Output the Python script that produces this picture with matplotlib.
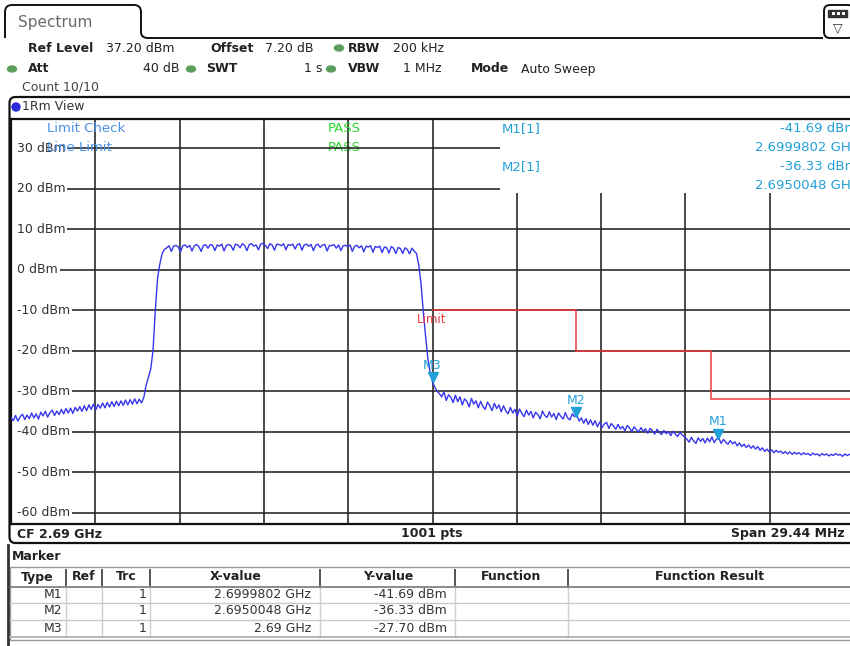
import numpy as np
import matplotlib
matplotlib.use("Agg")
import matplotlib.pyplot as plt
import matplotlib.transforms as mtransforms
from matplotlib.patches import Rectangle, Ellipse, Circle, FancyBboxPatch, PathPatch
from matplotlib.path import Path

plt.rcParams['font.family'] = ['DejaVu Sans', 'Noto Sans']

# ---------------- data ----------------
center_ghz = 2.69
span_mhz = 29.44
ref_level_dbm = 37.20
n_points = 1001
y_ticks = [30, 20, 10, 0, -10, -20, -30, -40, -50, -60]
y_tick_labels = [f"{v} dBm" for v in y_ticks]

# trace levels (dBm), evenly spaced across the span
trace_left = [-36.5, -37.3, -36.0, -37.4, -36.3, -35.7, -37.0, -35.9, -36.8, -35.4,
              -36.6, -35.6, -36.9, -35.2, -36.1, -35.0, -36.4, -35.3, -34.7, -36.0,
              -34.9, -35.8, -34.5, -35.6, -34.3, -35.4, -34.2, -35.5, -34.0, -34.9,
              -33.8, -35.0, -33.6, -34.8, -33.4, -34.5, -33.2, -34.6, -33.3, -34.2,
              -32.9, -34.1, -32.8, -33.9, -32.6, -33.8, -32.5, -33.6, -32.4, -33.5,
              -32.2, -33.4, -32.1, -33.2, -31.9, -33.1, -32.0, -32.9]
trace_rise = [-31.5, -28.5, -26.5, -24.5, -20.0, -10.0, -2.0, 1.5, 4.0, 5.0]
trace_top = [5.4, 5.9, 4.5, 5.8, 6.0, 5.6, 4.4, 5.9, 6.1, 5.5,
             6.0, 4.6, 5.9, 6.2, 5.7, 4.5, 6.0, 6.1, 5.3, 6.2,
             6.0, 4.7, 6.1, 5.8, 6.3, 4.6, 6.0, 6.2, 5.9, 4.8,
             6.3, 6.1, 5.4, 6.4, 6.0, 4.7, 6.2, 6.4, 5.8, 6.1,
             4.9, 6.3, 6.5, 6.0, 5.2, 6.4, 6.1, 4.8, 6.3, 6.2,
             5.9, 6.4, 4.9, 6.2, 6.0, 6.3, 5.1, 6.2, 6.4, 4.8,
             6.1, 6.3, 5.8, 6.2, 4.7, 6.0, 6.3, 5.5, 6.1, 6.2,
             4.6, 6.0, 5.9, 6.2, 5.3, 6.1, 4.7, 5.9, 6.0, 5.7,
             6.1, 4.5, 5.8, 6.0, 5.4, 5.9, 4.4, 5.8, 5.6, 5.9,
             4.3, 5.7, 5.5, 5.8, 4.2, 5.6, 5.4, 4.1, 5.7, 5.3,
             4.0, 5.5, 5.2, 4.0, 5.4, 5.0, 3.9, 5.3, 4.6]
trace_fall = [4.0, 1.2, -3.5, -10.5, -16.5, -22.0, -25.5, -27.7]
trace_right = [-29.0, -30.0, -30.6, -31.4, -30.2, -32.3, -30.9, -31.5, -32.8, -31.0,
               -32.6, -31.4, -33.4, -31.9, -32.5, -33.9, -31.8, -33.2, -32.4, -34.1,
               -32.5, -33.8, -34.5, -32.7, -33.6, -34.8, -33.0, -34.3, -33.4, -35.1,
               -33.6, -34.9, -35.6, -34.0, -35.4, -34.5, -36.2, -34.4, -35.5, -36.3,
               -34.7, -35.9, -35.0, -36.6, -35.2, -35.8, -36.8, -34.9, -36.0, -36.5,
               -35.1, -36.4, -35.5, -37.0, -35.4, -36.2, -36.9, -35.3, -36.6, -37.1,
               -35.6, -36.3, -35.9, -37.4, -36.6, -37.9, -36.8, -38.2, -37.1, -38.4,
               -37.3, -38.8, -37.6, -39.0, -38.1, -37.7, -39.2, -38.0, -38.6, -39.4,
               -38.2, -39.3, -38.7, -39.8, -38.5, -39.1, -40.0, -38.8, -39.5, -40.1,
               -39.0, -39.9, -39.3, -40.4, -39.2, -39.8, -40.6, -39.4, -40.2, -40.7,
               -39.7, -40.5, -40.0, -41.0, -39.9, -40.6, -41.2, -40.2, -40.8, -41.3,
               -41.8, -42.6, -41.4, -42.3, -42.9, -41.5, -42.4, -41.7, -42.8, -41.6,
               -42.5, -41.3, -42.7, -41.8, -41.6, -42.9, -41.9, -42.6, -43.1, -42.2,
               -43.0, -42.5, -43.5, -42.8, -43.7, -43.1, -43.9, -43.3, -44.1, -43.5,
               -44.3, -43.7, -44.6, -44.0, -44.9, -44.3, -45.0, -44.5, -45.2, -44.6,
               -45.1, -44.8, -45.4, -44.9, -45.5, -45.0, -45.6, -45.1, -45.5, -45.2,
               -45.7, -45.2, -45.6, -45.4, -45.9, -45.3, -45.7, -45.5, -46.0, -45.4,
               -45.8, -45.5, -46.0, -45.6, -45.9, -45.4, -45.8, -45.6, -46.1, -45.5,
               -45.9, -45.6, -45.8, -45.7]
trace_level = trace_left + trace_rise + trace_top + trace_fall + trace_right

# limit line (offset from CF in MHz, level dBm)
limit_offset_mhz = [0.0, 5.0, 5.0, 9.72, 9.72, 14.9]
limit_level = [-10, -10, -20, -20, -32, -32]

marker_names = ["M1", "M2", "M3"]
marker_freq_ghz = [2.6999802, 2.6950048, 2.69]
marker_level = [-41.69, -36.33, -27.70]
marker_trc = [1, 1, 1]

table_headers = ["Type", "Ref", "Trc", "X-value", "Y-value", "Function", "Function Result"]

# ---------------- colours ----------------
TRACE = "#3636ee"
MARK = "#22a0d8"
LIMC = "#4a8fe6"
PASSC = "#2ed82e"
RED = "#f03a3a"
GRID = "#2a2a2a"
TXT = "#222222"

W, H = 850, 646
fig = plt.figure(figsize=(W / 100, H / 100), dpi=100)
fig.patch.set_facecolor("white")

# UI overlay in pixel coordinates
ui = fig.add_axes([0, 0, 1, 1], zorder=0)
ui.set_xlim(0, W)
ui.set_ylim(H, 0)
ui.axis("off")


def t(x, y, s, bold=False, ha="left", color=TXT, size=9, **kw):
    ui.text(x, y, s, ha=ha, va="center", fontsize=size, color=color,
            fontweight="bold" if bold else "normal", **kw)


def dot(x, y):
    ui.add_patch(Ellipse((x, y), 9, 6, color="#5b9e5b"))


# tab
verts = [(5, 38), (5, 12), (5, 5), (12, 5), (134, 5), (141, 5), (141, 12),
         (141, 32), (141, 38), (148, 38), (823, 38)]
codes = [Path.MOVETO, Path.LINETO, Path.CURVE3, Path.CURVE3, Path.LINETO,
         Path.CURVE3, Path.CURVE3, Path.LINETO, Path.CURVE3, Path.CURVE3, Path.LINETO]
ui.add_patch(PathPatch(Path(verts, codes), fc="none", ec="#111", lw=1.4))
t(18, 22, "Spectrum", size=11, color="#6a6a6a")
# icon on right
ui.add_patch(FancyBboxPatch((824, 5), 30, 33, boxstyle="round,pad=0,rounding_size=6",
                            fc="white", ec="#111", lw=1.4))
ui.add_patch(Rectangle((828, 10), 19, 7, fc="#333", ec="#333"))
for xx in (832, 837, 842):
    ui.add_patch(Rectangle((xx, 12), 3, 3, fc="white", ec="none"))
t(838, 28, "\u25bd", ha="center", size=9, color="#333")

# header lines
t(28, 48, "Ref Level", bold=True)
t(106, 48, "37.20 dBm")
t(210, 48, "Offset", bold=True)
t(265, 48, "7.20 dB")
dot(339, 48)
t(348, 48, "RBW", bold=True)
t(393, 48, "200 kHz")
dot(12, 69)
t(28, 69, "Att", bold=True)
t(180, 69, "40 dB", ha="right")
dot(191, 69)
t(206, 69, "SWT", bold=True)
t(322, 69, "1 s", ha="right")
dot(331, 69)
t(348, 69, "VBW", bold=True)
t(442, 69, "1 MHz", ha="right")
t(471, 69, "Mode", bold=True)
t(521, 69, "Auto Sweep")
t(22, 87, "Count 10/10", color="#444")

# window box around the diagram
ui.add_patch(FancyBboxPatch((9.5, 97), 860, 446, boxstyle="round,pad=0,rounding_size=6",
                            fc="white", ec="#111", lw=1.6))
ui.add_patch(Circle((16, 107), 4, color="#2a2ad8"))
t(22, 107, "1Rm View", color="#333")
t(17, 534, f"CF {center_ghz:g} GHz", bold=True)
t(432, 534, f"{n_points} pts", bold=True, ha="center")
t(845, 534, f"Span {span_mhz:.2f} MHz", bold=True, ha="right")

# marker table
ui.plot([8, 8], [545, 646], color="#333", lw=2)
t(12, 557, "Marker", bold=True)
ui.add_patch(Rectangle((10, 567), 845, 73, fc="white", ec="#999", lw=1))
col_sep = [66, 102, 150, 320, 455, 568]
col_center = [37, 84, 126, 236, 388, 511, 710]
for cx, hname in zip(col_center, table_headers):
    t(cx, 577, hname, bold=True, ha="center")
for xs in col_sep:
    ui.plot([xs, xs], [570, 585], color="#555", lw=1.4)
    ui.plot([xs, xs], [587, 637], color="#cfcfcf", lw=1)
ui.plot([10, 855], [586.5, 586.5], color="#777", lw=1.2)
for yy in (603, 620):
    ui.plot([10, 855], [yy, yy], color="#c8c8c8", lw=1)
ui.plot([10, 855], [637, 637], color="#aaa", lw=1.2)

for r in range(len(marker_names)):
    yy = 594 + 17 * r
    xs = f"{marker_freq_ghz[r]:.7f}".rstrip("0").rstrip(".") + " GHz"
    t(62, yy, marker_names[r], ha="right", color="#333")
    t(147, yy, str(marker_trc[r]), ha="right", color="#333")
    t(311, yy, xs, ha="right", color="#333")
    t(447, yy, f"{marker_level[r]:.2f} dBm", ha="right", color="#333")

# ---------------- diagram ----------------
x0, x1, ytop, ybot = 11, 854, 119, 524
ax = fig.add_axes([x0 / W, 1 - ybot / H, (x1 - x0) / W, (ybot - ytop) / H], zorder=2)
ax.set_facecolor("white")
half = span_mhz / 2
ax.set_xlim(-half, half)
ax.set_ylim(ref_level_dbm - 100, ref_level_dbm)
ax.set_xticks([])
ax.set_yticks([])
for s in ("left", "top", "bottom"):
    ax.spines[s].set_linewidth(1.6)
    ax.spines[s].set_color("#111")
ax.spines["right"].set_visible(False)

bt = mtransforms.blended_transform_factory(ax.transAxes, ax.transData)
for v in y_ticks:
    ax.axhline(v, xmin=0.0085, xmax=1, color=GRID, lw=1.2, zorder=1)
for k in range(1, 10):
    ax.axvline(-half + k * span_mhz / 10, color=GRID, lw=1.2, zorder=1)
for v, lab in zip(y_ticks, y_tick_labels):
    ax.text(0.0071, v, lab, transform=bt, ha="left", va="center", fontsize=9,
            color="#333", zorder=2,
            bbox=dict(boxstyle="square,pad=0.15", fc="white", ec="none"))

# marker info area (covers grid)
ax.add_patch(Rectangle((0.58, 19.0), 0.45, 20, transform=bt, fc="white", ec="none", zorder=2))

ax.text(0.0427, 34.8, "Limit Check", transform=bt, color=LIMC, fontsize=9.5, va="center", zorder=3)
ax.text(0.0427, 30.2, "Line Limit", transform=bt, color=LIMC, fontsize=9.5, va="center", zorder=2.5)
ax.text(0.376, 34.8, "PASS", transform=bt, color=PASSC, fontsize=9.5, va="center", zorder=3)
ax.text(0.376, 30.2, "PASS", transform=bt, color=PASSC, fontsize=9.5, va="center", zorder=0.9)

for r in (0, 1):
    ytxt = 34.8 - r * 9.3
    ax.text(0.582, ytxt, f"{marker_names[r]}[{marker_trc[r]}]", transform=bt, color=MARK,
            fontsize=9.5, va="center", zorder=3)
    ax.text(1.004, ytxt, f"{marker_level[r]:.2f} dBm", transform=bt, color=MARK,
            fontsize=9.5, va="center", ha="right", zorder=3)
    xs = f"{marker_freq_ghz[r]:.7f}".rstrip("0").rstrip(".") + " GHz"
    ax.text(1.004, ytxt - 4.65, xs, transform=bt, color=MARK,
            fontsize=9.5, va="center", ha="right", zorder=3)

# trace
trace_freq = np.linspace(-half, half, len(trace_level))
ax.plot(trace_freq, trace_level, color=TRACE, lw=1.0, zorder=4)

# limit line
ax.plot(limit_offset_mhz, limit_level, color=RED, lw=1.1, zorder=3.5)
ax.annotate("Limit", (limit_offset_mhz[0], limit_level[0]), xytext=(-11, -7),
            textcoords="offset points", color=RED, fontsize=8.5, ha="left",
            va="center", zorder=5)

# markers
up = mtransforms.ScaledTranslation(0, 5 / 100, fig.dpi_scale_trans)
for name, fg, lv in zip(marker_names, marker_freq_ghz, marker_level):
    fx = (fg - center_ghz) * 1000
    ax.plot([fx], [lv], marker="v", color=MARK, ms=6.5, ls="none",
            transform=ax.transData + up, zorder=6)
    ax.annotate(name, (fx, lv), xytext=(0, 12), textcoords="offset points",
                color=MARK, fontsize=9, ha="center", va="center", zorder=6)

fig.savefig("out.png", dpi=100)
